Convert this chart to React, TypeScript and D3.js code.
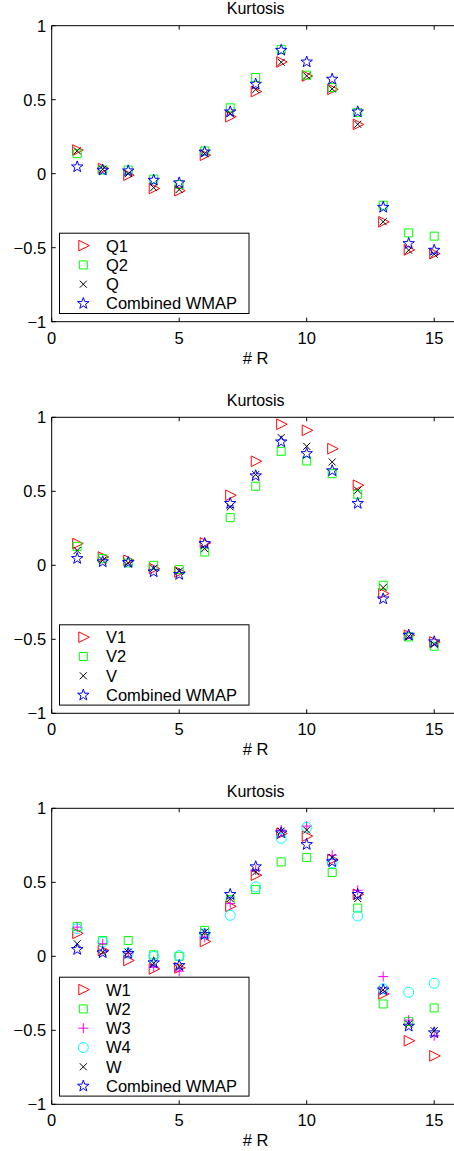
import * as d3 from 'd3';

// x positions (# R)
const R = [1, 2, 3, 4, 5, 6, 7, 8, 9, 10, 11, 12, 13, 14, 15];

// combined map, same in every panel
const COMBINED = [0.046, 0.024, 0.019, -0.044, -0.062, 0.147, 0.418, 0.605, 0.834, 0.755, 0.639, 0.418, -0.227, -0.472, -0.517];

// Q band
const Q1 = [0.16, 0.035, -0.01, -0.1, -0.115, 0.125, 0.385, 0.555, 0.755, 0.66, 0.57, 0.333, -0.325, -0.515, -0.54];
const Q2 = [0.135, 0.025, 0.025, -0.037, -0.073, 0.154, 0.445, 0.65, 0.84, 0.666, 0.582, 0.413, -0.213, -0.4, -0.422];
const Q = [0.155, 0.03, 0.0, -0.094, -0.107, 0.136, 0.407, 0.569, 0.753, 0.661, 0.573, 0.334, -0.325, -0.517, -0.544];

// V band
const V1 = [0.147, 0.056, 0.034, -0.022, -0.045, 0.151, 0.473, 0.703, 0.953, 0.912, 0.788, 0.541, -0.191, -0.473, -0.518];
const V2 = [0.128, 0.045, 0.016, 0.0, -0.029, 0.09, 0.322, 0.534, 0.77, 0.705, 0.619, 0.48, -0.135, -0.484, -0.547];
const V = [0.1, 0.034, 0.016, -0.02, -0.04, 0.113, 0.394, 0.613, 0.863, 0.804, 0.698, 0.507, -0.151, -0.48, -0.534];

// W band
const W1 = [0.155, 0.04, -0.028, -0.085, -0.078, 0.1, 0.338, 0.548, 0.83, 0.812, 0.654, 0.419, -0.254, -0.571, -0.673];
const W2 = [0.202, 0.107, 0.107, 0.01, 0.0, 0.175, 0.383, 0.451, 0.638, 0.668, 0.566, 0.326, -0.322, -0.44, -0.349];
const W3 = [0.197, 0.085, 0.021, -0.074, -0.101, 0.13, 0.356, 0.582, 0.853, 0.88, 0.683, 0.446, -0.137, -0.431, -0.537];
const W4 = [0.186, 0.096, 0.021, 0.0, 0.005, 0.152, 0.277, 0.469, 0.797, 0.871, 0.631, 0.272, -0.22, -0.243, -0.182];
const W = [0.085, 0.028, 0.028, -0.047, -0.069, 0.163, 0.39, 0.57, 0.846, 0.853, 0.668, 0.39, -0.227, -0.458, -0.503];

const X_TICKS = [0, 5, 10, 15];
const Y_TICKS = [-1, -0.5, 0, 0.5, 1];

type Marker = 'tri' | 'sq' | 'x' | 'plus' | 'circ' | 'star';
interface Series { name: string; values: number[]; marker: Marker; color: string }

const PANELS: { top: number; series: Series[] }[] = [
  {
    top: 25.7,
    series: [
      { name: 'Q1', values: Q1, marker: 'tri', color: '#ff0000' },
      { name: 'Q2', values: Q2, marker: 'sq', color: '#00ff00' },
      { name: 'Q', values: Q, marker: 'x', color: '#000000' },
      { name: 'Combined WMAP', values: COMBINED, marker: 'star', color: '#0000ff' },
    ],
  },
  {
    top: 417.3,
    series: [
      { name: 'V1', values: V1, marker: 'tri', color: '#ff0000' },
      { name: 'V2', values: V2, marker: 'sq', color: '#00ff00' },
      { name: 'V', values: V, marker: 'x', color: '#000000' },
      { name: 'Combined WMAP', values: COMBINED, marker: 'star', color: '#0000ff' },
    ],
  },
  {
    top: 808.3,
    series: [
      { name: 'W1', values: W1, marker: 'tri', color: '#ff0000' },
      { name: 'W2', values: W2, marker: 'sq', color: '#00ff00' },
      { name: 'W3', values: W3, marker: 'plus', color: '#ff00ff' },
      { name: 'W4', values: W4, marker: 'circ', color: '#00ffff' },
      { name: 'W', values: W, marker: 'x', color: '#000000' },
      { name: 'Combined WMAP', values: COMBINED, marker: 'star', color: '#0000ff' },
    ],
  },
];

const W_SVG = 454, H_SVG = 1151;
const PLOT_H = 296;
const FONT = '"Liberation Sans", Arial, Helvetica, sans-serif';
const FS = 16.5;

const starPath = (() => {
  const pts: string[] = [];
  for (let i = 0; i < 10; i++) {
    const r = i % 2 === 0 ? 6 : 2.4;
    const a = -Math.PI / 2 + (i * Math.PI) / 5;
    pts.push(`${(r * Math.cos(a)).toFixed(2)},${(r * Math.sin(a)).toFixed(2)}`);
  }
  return 'M' + pts.join('L') + 'Z';
})();

function MarkerShape({ kind, color, x, y }: { kind: Marker; color: string; x: number; y: number }) {
  const t = `translate(${x},${y})`;
  const common = { fill: 'none', stroke: color, strokeWidth: 1 };
  switch (kind) {
    case 'tri':
      return <path transform={t} d="M-4.5,-5.3L6,0L-4.5,5.3Z" {...common} />;
    case 'sq':
      return <path transform={t} d="M-4,-4H4V4H-4Z" {...common} />;
    case 'x':
      return <path transform={t} d="M-3.5,-3.5L3.5,3.5M-3.5,3.5L3.5,-3.5" {...common} />;
    case 'plus':
      return <path transform={t} d="M-5,0H5M0,-5V5" {...common} />;
    case 'circ':
      return <circle cx={x} cy={y} r={5} {...common} />;
    case 'star':
      return <path transform={t} d={starPath} {...common} />;
  }
}

const fmt = (v: number) => (v < 0 ? '\u2212' + String(-v) : String(v));

function Panel({ top, series }: { top: number; series: Series[] }) {
  const x = d3.scaleLinear().domain([0, 16]).range([51.7, 459.7]);
  const y = d3.scaleLinear().domain([-1, 1]).range([top + PLOT_H, top]);
  const [x0, x1] = x.range();
  const [yb, yt] = y.range();

  const rowH = 19.3;
  const legH = 22.4 + rowH * (series.length - 1);
  const legBottom = yb - 8.2;
  const legTop = legBottom - legH;
  const legLeft = 59.5, legRight = 249;

  return (
    <g>
      <text x={(x0 + x1) / 2} y={yt - 11.3} textAnchor="middle" fontSize={16}>Kurtosis</text>

      {/* box */}
      <line x1={x0} x2={x1} y1={yb} y2={yb} stroke="#000" />
      <line x1={x0} x2={x1} y1={yt} y2={yt} stroke="#000" />
      <line x1={x0} x2={x0} y1={yt} y2={yb} stroke="#000" />
      <line x1={x1} x2={x1} y1={yt} y2={yb} stroke="#000" />

      {X_TICKS.map(t => (
        <g key={'x' + t}>
          <line x1={x(t)} x2={x(t)} y1={yb} y2={yb - 4} stroke="#000" />
          <line x1={x(t)} x2={x(t)} y1={yt} y2={yt + 4} stroke="#000" />
          <text x={x(t)} y={yb + 22} textAnchor="middle" fontSize={FS}>{fmt(t)}</text>
        </g>
      ))}
      {Y_TICKS.map(t => (
        <g key={'y' + t}>
          <line x1={x0} x2={x0 + 4} y1={y(t)} y2={y(t)} stroke="#000" />
          <text x={x0 - 5.5} y={y(t)} dy="0.36em" textAnchor="end" fontSize={FS}>{fmt(t)}</text>
        </g>
      ))}
      <text x={(x0 + x1) / 2} y={yb + 42} textAnchor="middle" fontSize={FS}># R</text>

      {series.map(s => (
        <g key={s.name}>
          {s.values.map((v, i) => (
            <MarkerShape key={i} kind={s.marker} color={s.color} x={x(R[i])} y={y(v)} />
          ))}
        </g>
      ))}

      <rect x={legLeft} y={legTop} width={legRight - legLeft} height={legH} fill="#fff" stroke="#000" />
      {series.map((s, i) => {
        const cy = legTop + 12.4 + i * rowH;
        return (
          <g key={'leg' + s.name}>
            <MarkerShape kind={s.marker} color={s.color} x={83.3} y={cy} />
            <text x={106} y={cy} dy="0.36em" fontSize={FS}>{s.name}</text>
          </g>
        );
      })}
    </g>
  );
}

export default function App() {
  return (
    <svg
      width={W_SVG}
      height={H_SVG}
      style={{ position: 'absolute', left: 0, top: 0, background: '#fff' }}
      fontFamily={FONT}
    >
      <rect width={W_SVG} height={H_SVG} fill="#fff" />
      {PANELS.map((p, i) => (
        <Panel key={i} top={p.top} series={p.series} />
      ))}
    </svg>
  );
}
